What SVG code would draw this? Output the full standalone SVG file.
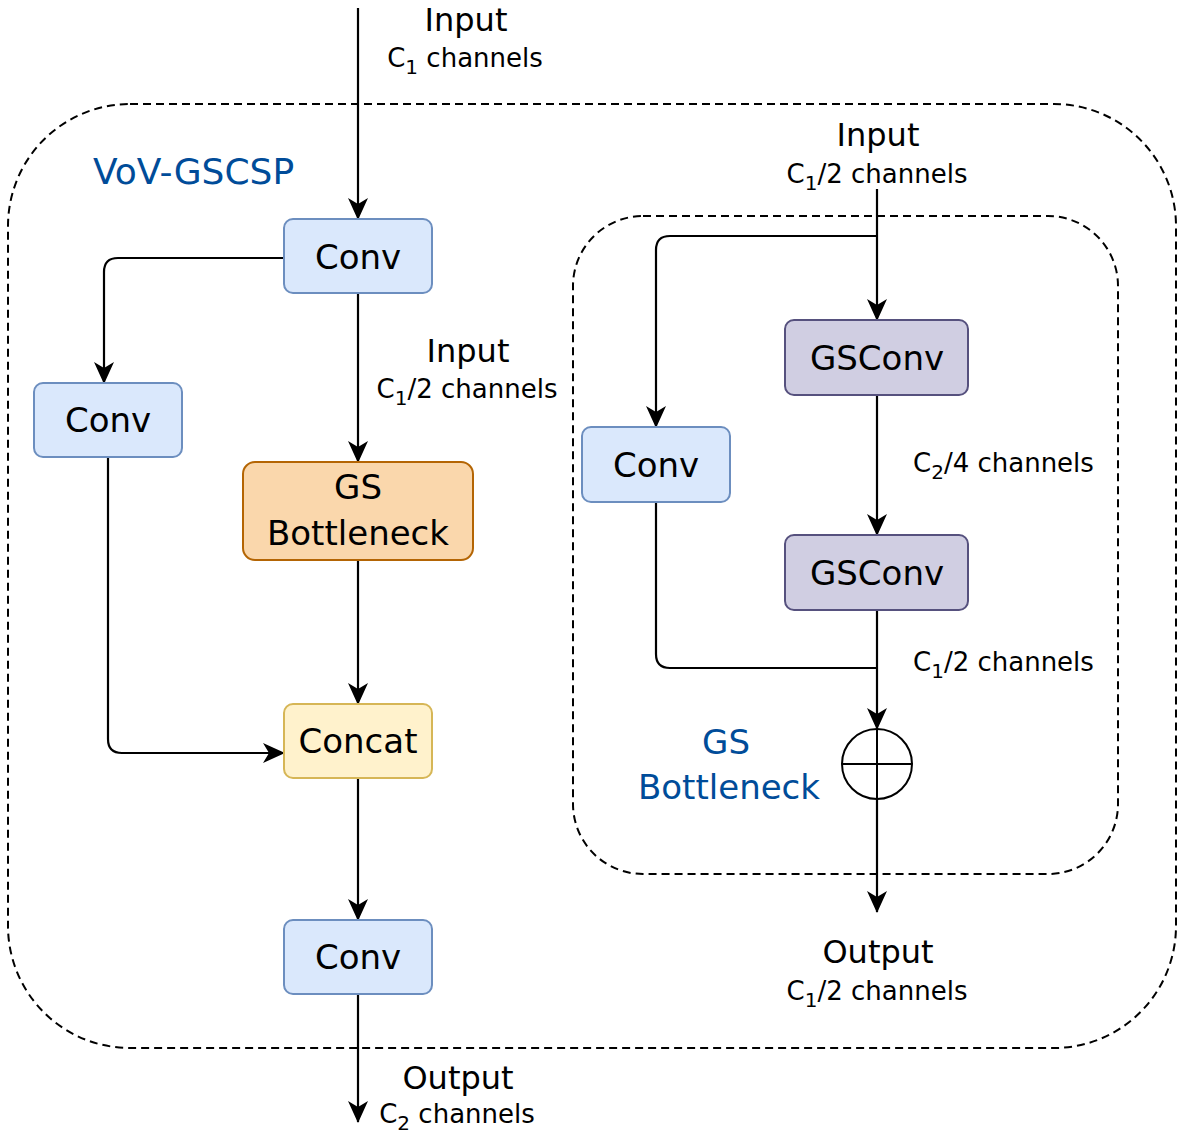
<svg xmlns="http://www.w3.org/2000/svg" width="1181" height="1138" viewBox="0 0 1181 1138">
<defs>
<style>
.box{stroke-width:2}
.blue{fill:#dae8fc;stroke:#6c8ebf}
.orange{fill:#fad7ac;stroke:#b46504}
.yellow{fill:#fff2cc;stroke:#d6b656}
.purple{fill:#d0cee2;stroke:#56517e}
.dash{fill:none;stroke:#000;stroke-width:2;stroke-dasharray:8 5}
.lbl{font-family:"DejaVu Sans","Liberation Sans",sans-serif;font-size:34px;fill:#000;text-anchor:middle}
.io{font-family:"DejaVu Sans","Liberation Sans",sans-serif;font-size:32px;fill:#000;text-anchor:middle}
.ch{font-family:"DejaVu Sans","Liberation Sans",sans-serif;font-size:26px;fill:#000;text-anchor:middle}
.chs{text-anchor:start}
.grp{font-family:"DejaVu Sans","Liberation Sans",sans-serif;font-size:34px;fill:#004c99;text-anchor:middle}
.sub{font-size:20px}
.conn path{fill:none;stroke:#000;stroke-width:2.2}
.arr{marker-end:url(#ah)}
</style>
<marker id="ah" markerUnits="userSpaceOnUse" markerWidth="22" markerHeight="20" viewBox="0 0 22 20" refX="21" refY="10" orient="auto">
<path d="M0,0 L22,10 L0,20 L6,10 Z" fill="#000"/>
</marker>
</defs>
<rect width="1181" height="1138" fill="#fff"/>

<g id="vov-gscsp-group">
<rect class="dash" x="8" y="104" width="1168" height="944" rx="122" ry="122"/>
<text class="grp" x="93" y="184" style="text-anchor:start;font-size:36px">VoV-GSCSP</text>
</g>
<g id="gs-bottleneck-group">
<rect class="dash" x="573" y="216" width="545" height="658" rx="70" ry="70"/>
<text class="grp" x="726" y="754">GS</text>
<text class="grp" x="729" y="799">Bottleneck</text>
</g>

<g id="connectors" class="conn">
<path class="arr" d="M358,8 V219"/>
<path class="arr" d="M284,258 H118 Q104,258 104,272 V383"/>
<path class="arr" d="M358,293 V462"/>
<path class="arr" d="M358,561 V704"/>
<path class="arr" d="M108,458 V739 Q108,753 122,753 H284"/>
<path class="arr" d="M358,778 V920"/>
<path class="arr" d="M358,994 V1122"/>
<path class="arr" d="M877,189 V320"/>
<path class="arr" d="M877,236 H670 Q656,236 656,250 V427"/>
<path class="arr" d="M877,395 V535"/>
<path class="arr" d="M877,610 V729"/>
<path d="M656,502 V654 Q656,668 670,668 H877"/>
<path class="arr" d="M877,799 V912"/>
</g>

<g id="labels">
<text class="io" x="466" y="31">Input</text>
<text class="ch" x="465" y="67">C<tspan class="sub" dy="7">1</tspan><tspan dy="-7"> channels</tspan></text>
<text class="io" x="468" y="362">Input</text>
<text class="ch" x="467" y="398">C<tspan class="sub" dy="7">1</tspan><tspan dy="-7">/2 channels</tspan></text>
<text class="io" x="878" y="146">Input</text>
<text class="ch" x="877" y="183">C<tspan class="sub" dy="7">1</tspan><tspan dy="-7">/2 channels</tspan></text>
<text class="ch chs" x="913" y="472">C<tspan class="sub" dy="7">2</tspan><tspan dy="-7">/4 channels</tspan></text>
<text class="ch chs" x="913" y="671">C<tspan class="sub" dy="7">1</tspan><tspan dy="-7">/2 channels</tspan></text>
<text class="io" x="878" y="963">Output</text>
<text class="ch" x="877" y="1000">C<tspan class="sub" dy="7">1</tspan><tspan dy="-7">/2 channels</tspan></text>
<text class="io" x="458" y="1089">Output</text>
<text class="ch" x="457" y="1123">C<tspan class="sub" dy="7">2</tspan><tspan dy="-7"> channels</tspan></text>
</g>

<g id="conv-top">
<rect class="box blue" x="284" y="219" width="148" height="74" rx="9"/>
<text class="lbl" x="358" y="269">Conv</text>
</g>
<g id="conv-left">
<rect class="box blue" x="34" y="383" width="148" height="74" rx="9"/>
<text class="lbl" x="108" y="432">Conv</text>
</g>
<g id="gs-bottleneck">
<rect class="box orange" x="243" y="462" width="230" height="98" rx="12"/>
<text class="lbl" x="358" y="499">GS</text>
<text class="lbl" x="358" y="545">Bottleneck</text>
</g>
<g id="concat">
<rect class="box yellow" x="284" y="704" width="148" height="74" rx="9"/>
<text class="lbl" x="358" y="753">Concat</text>
</g>
<g id="conv-bottom">
<rect class="box blue" x="284" y="920" width="148" height="74" rx="9"/>
<text class="lbl" x="358" y="969">Conv</text>
</g>
<g id="gsconv-1">
<rect class="box purple" x="785" y="320" width="183" height="75" rx="9"/>
<text class="lbl" x="877" y="370">GSConv</text>
</g>
<g id="gsconv-2">
<rect class="box purple" x="785" y="535" width="183" height="75" rx="9"/>
<text class="lbl" x="877" y="585">GSConv</text>
</g>
<g id="conv-right">
<rect class="box blue" x="582" y="427" width="148" height="75" rx="9"/>
<text class="lbl" x="656" y="477">Conv</text>
</g>
<g id="add">
<circle cx="877" cy="764" r="35" fill="#fff" stroke="#000" stroke-width="2"/>
<path d="M842,764 H912 M877,729 V799" fill="none" stroke="#000" stroke-width="2"/>
</g>
</svg>
